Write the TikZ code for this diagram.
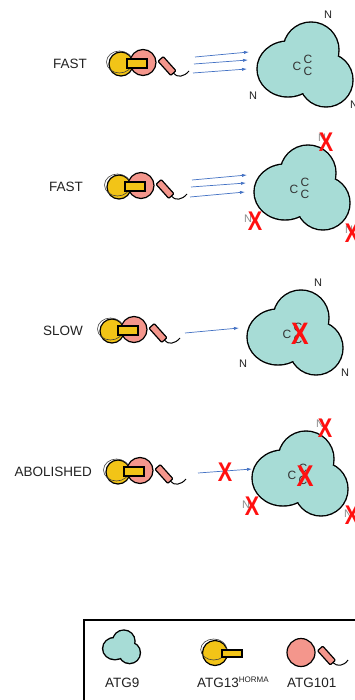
\documentclass[tikz,border=0pt]{standalone}
\usepackage{fontspec}
\usepackage{graphicx}
\setmainfont{Liberation Sans}
\usetikzlibrary{arrows.meta}

\definecolor{atgnine}{HTML}{A7DCD6}
\definecolor{atgyellow}{HTML}{F2C417}
\definecolor{atgpink}{HTML}{F4968C}
\definecolor{arrowblue}{HTML}{4472C4}
\definecolor{xred}{HTML}{FF1010}
\definecolor{labelgray}{HTML}{222222}

\tikzset{
  outline/.style={draw=black, line width=1.2pt},
  ring/.style={draw=black!75, line width=0.6pt},
  rowlabel/.style={font=\fontsize{13.5}{16}\selectfont, text=labelgray, inner sep=0pt, anchor=east},
  keylabel/.style={font=\fontsize{13.5}{16}\selectfont, text=labelgray, inner sep=0pt, anchor=west},
  nlabel/.style={font=\fontsize{11}{12}\selectfont, text=labelgray, inner sep=0pt},
  nhidden/.style={nlabel, text=black!45},
  clabel/.style={font=\fontsize{12}{12}\selectfont, text=black!80, inner sep=0pt},
  cross/.style={font=\fontsize{27}{28}\bfseries\selectfont, text=xred, inner sep=0pt},
  bind/.style={draw=arrowblue, line width=0.7pt, -{Latex[length=5pt,width=3.2pt]}},
}

% ATG9 trefoil: a doubled outline under the fill leaves only the outer edge
\newcommand{\atgcloud}[4]{%
  \begin{scope}[shift={(#2,#3)}, scale=#4]
    \path[draw=black, line width=2.8pt]
      (6,-15) circle[radius=27.3]
      (-17,4) ellipse[x radius=30.3, y radius=27.3]
      (21,15) circle[radius=26.3];
    \path[fill=atgnine]
      (6,-15) circle[radius=27.3]
      (-17,4) ellipse[x radius=30.3, y radius=27.3]
      (21,15) circle[radius=26.3];
  \end{scope}
  \coordinate (#1) at (#2,#3);}

% three C termini in the middle of the trimer
\newcommand{\cterm}[3]{%
  \node[clabel] (#1c1) at ($(#2,#3)+(-8,1)$) {C};
  \node[clabel] (#1c2) at ($(#2,#3)+(3,-6)$) {C};
  \node[clabel] (#1c3) at ($(#2,#3)+(3,6)$) {C};}

% ATG13(HORMA)-ATG101 complex, placed by the centre of the yellow disc
\newcommand{\atgcomplex}[2]{%
  \begin{scope}[shift={(#1,#2)}]
    \draw[outline, fill=atgyellow] (0,0) circle[radius=12];
    \draw[ring] (-1.5,-2) ellipse[x radius=13, y radius=11];
    \draw[outline, fill=atgpink] (22,-1.5) circle[radius=13];
    \draw[outline, fill=atgyellow] (6,-5) rectangle (26,4);
    \begin{scope}[shift={(46,2)}, rotate=-48]
      \draw[outline, fill=atgpink, rounded corners=1pt] (-9.5,-3.5) rectangle (9.5,3.5);
    \end{scope}
    \draw[outline, line width=1pt] (52.4,9.1) .. controls (56,14) and (63,13) .. (68,7);
  \end{scope}}

\usetikzlibrary{calc}

\begin{document}
\begin{tikzpicture}[x=1pt, y=-1pt]
\useasboundingbox (0,0) rectangle (354,700);
\fill[white] (0,0) rectangle (354,700);

% ---------- row 1: FAST ----------
\node[rowlabel] (lbl1) at (87,64) {FAST};
\atgcomplex{121}{64}
\coordinate (a1s) at (195,57); \coordinate (a1e) at (249,52);
\coordinate (b1s) at (194,64); \coordinate (b1e) at (248,60);
\coordinate (c1s) at (193,73); \coordinate (c1e) at (247,69);
\draw[bind] (a1s) -- (a1e);
\draw[bind] (b1s) -- (b1e);
\draw[bind] (c1s) -- (c1e);
\atgcloud{t1}{305}{65}{1}
\cterm{t1}{305}{65}
\node[nlabel] (t1n1) at ($(t1)+(23,-50)$) {N};
\node[nlabel] (t1n2) at ($(t1)+(-52,31)$) {N};
\node[nlabel] (t1n3) at ($(t1)+(49,40)$) {N};

% ---------- row 2: FAST ----------
\node[rowlabel] (lbl2) at (83,187) {FAST};
\atgcomplex{119}{187}
\coordinate (a2s) at (192,180); \coordinate (a2e) at (247,175);
\coordinate (b2s) at (191,187); \coordinate (b2e) at (246,183);
\coordinate (c2s) at (190,197); \coordinate (c2e) at (245,192);
\draw[bind] (a2s) -- (a2e);
\draw[bind] (b2s) -- (b2e);
\draw[bind] (c2s) -- (c2e);
\atgcloud{t2}{302}{188}{1}
\cterm{t2}{302}{188}
\node[nhidden] (t2n1) at ($(t2)+(20,-50)$) {N};
\node[nhidden] (t2n2) at ($(t2)+(-54,31)$) {N};
\node[nhidden] (t2n3) at ($(t2)+(47,42)$) {N};
\node[cross] (t2x1) at ($(t2)+(24,-46)$) {\scalebox{0.8}[1]{X}};
\node[cross] (t2x2) at ($(t2)+(-47,33)$) {\scalebox{0.8}[1]{X}};
\node[cross] (t2x3) at ($(t2)+(50,45)$) {\scalebox{0.8}[1]{X}};

% ---------- row 3: SLOW ----------
\node[rowlabel] (lbl3) at (83,331) {SLOW};
\atgcomplex{112}{331}
\coordinate (a3s) at (185,333); \coordinate (a3e) at (239,328);
\draw[bind] (a3s) -- (a3e);
\atgcloud{t3}{295}{333}{1}
\cterm{t3}{295}{333}
\node[nlabel] (t3n1) at ($(t3)+(23,-50)$) {N};
\node[nlabel] (t3n2) at ($(t3)+(-52,31)$) {N};
\node[nlabel] (t3n3) at ($(t3)+(50,40)$) {N};
\node[cross, font=\fontsize{31}{32}\bfseries\selectfont] (t3x) at ($(t3)+(5,1)$) {\scalebox{0.85}[1]{X}};

% ---------- row 4: ABOLISHED ----------
\node[rowlabel] (lbl4) at (92,472) {ABOLISHED};
\atgcomplex{118}{472}
\coordinate (a4s) at (198,473); \coordinate (a4e) at (252,469);
\draw[bind] (a4s) -- (a4e);
\node[cross] (a4x) at (225,472) {\scalebox{0.8}[1]{X}};
\atgcloud{t4}{300}{474}{1}
\cterm{t4}{300}{474}
\node[nhidden] (t4n1) at ($(t4)+(20,-50)$) {N};
\node[nhidden] (t4n2) at ($(t4)+(-54,31)$) {N};
\node[nhidden] (t4n3) at ($(t4)+(48,40)$) {N};
\node[cross] (t4x1) at ($(t4)+(25,-46)$) {\scalebox{0.8}[1]{X}};
\node[cross] (t4x2) at ($(t4)+(-48,32)$) {\scalebox{0.8}[1]{X}};
\node[cross] (t4x3) at ($(t4)+(52,41)$) {\scalebox{0.8}[1]{X}};
\node[cross, font=\fontsize{30}{32}\bfseries\selectfont] (t4x) at ($(t4)+(5,2)$) {\scalebox{0.85}[1]{X}};

% ---------- key ----------
\draw[black, line width=1.4pt] (84,620) rectangle (362,708);
\atgcloud{k9}{121.5}{647}{0.385}
\node[keylabel] (k9l) at (105,682.5) {ATG9};

\begin{scope}[shift={(215,653)}]
  \draw[outline, fill=atgyellow] (0,0) circle[radius=12.5];
  \draw[ring] (-1.3,-3.5) ellipse[x radius=13, y radius=10.5];
  \draw[outline, fill=atgyellow] (7,-3) rectangle (27,4);
\end{scope}
\node[keylabel] (k13l) at (197,682.5) {ATG13\raisebox{0.75ex}{\fontsize{8}{8}\selectfont HORMA}};

\draw[outline, fill=atgpink] (301,652.5) circle[radius=14];
\begin{scope}[shift={(326.5,655.5)}, rotate=-48]
  \draw[outline, fill=atgpink, rounded corners=1pt] (-9.5,-3.5) rectangle (9.5,3.5);
\end{scope}
\draw[outline, line width=1pt] (332.9,662.6) .. controls (337,667) and (344,666) .. (348,660);
\node[keylabel] (k101l) at (287,682.5) {ATG101};
\end{tikzpicture}
\end{document}
